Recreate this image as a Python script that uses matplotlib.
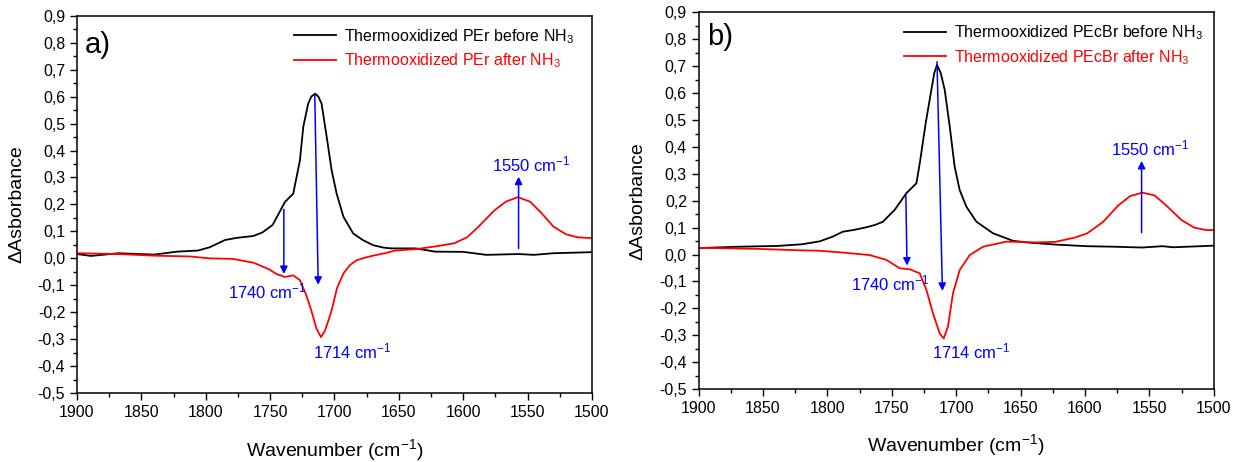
import matplotlib
matplotlib.use("Agg")
import matplotlib.pyplot as plt
from matplotlib.ticker import MultipleLocator, FuncFormatter

plt.rcParams["font.family"] = ["Liberation Sans", "DejaVu Sans"]
plt.rcParams["mathtext.fontset"] = "custom"
plt.rcParams["mathtext.rm"] = "Liberation Sans"
plt.rcParams["mathtext.it"] = "Liberation Sans:italic"

"""数据: 从图中读取的光谱 (波数 cm-1, ΔAbsorbance)"""
# a) PEr, before NH3
wn_a_before = [1900, 1889, 1868, 1840, 1822, 1806, 1797, 1785, 1776, 1763, 1756, 1748,
               1738.5, 1732, 1726.8, 1724.2, 1720.4, 1718, 1715, 1712.5, 1710, 1706,
               1702.2, 1698.3, 1693, 1685.4, 1678, 1670, 1662, 1656, 1637, 1622,
               1600, 1582, 1557, 1545, 1530, 1500]
abs_a_before = [0.016, 0.009, 0.019, 0.014, 0.025, 0.029, 0.041, 0.068, 0.076, 0.083, 0.096, 0.124,
                0.209, 0.240, 0.364, 0.488, 0.574, 0.600, 0.611, 0.600, 0.574, 0.450,
                0.327, 0.240, 0.154, 0.092, 0.068, 0.049, 0.040, 0.037, 0.037, 0.025,
                0.024, 0.013, 0.016, 0.013, 0.019, 0.023]
# a) PEr, after NH3
wn_a_after = [1900, 1868, 1840, 1812, 1797, 1779, 1763, 1751, 1745, 1738.5, 1732, 1726.8,
              1722, 1718, 1714, 1710.5, 1707.5, 1705, 1702.2, 1698, 1693, 1688, 1682.8,
              1676, 1670, 1659, 1653, 1637, 1622, 1607, 1597, 1588, 1576, 1567, 1557.5,
              1548, 1539, 1530, 1520, 1511, 1500]
abs_a_after = [0.019, 0.016, 0.010, 0.007, 0.000, -0.002, -0.016, -0.040, -0.058, -0.069, -0.063, -0.081,
               -0.135, -0.193, -0.260, -0.292, -0.270, -0.235, -0.193, -0.110, -0.056, -0.025, -0.007,
               0.003, 0.010, 0.021, 0.029, 0.034, 0.044, 0.056, 0.078, 0.118, 0.177, 0.210, 0.227,
               0.210, 0.167, 0.118, 0.089, 0.078, 0.075]
# b) PEcBr, before NH3
wn_b_before = [1900, 1869, 1838.5, 1820, 1806, 1795.7, 1788, 1780, 1771, 1763, 1756.9, 1747.8,
               1738.7, 1730.9, 1728.3, 1723.7, 1719.3, 1717, 1714.9, 1712, 1708.9, 1705,
               1701.2, 1697.3, 1692.1, 1684.3, 1671.4, 1655.9, 1645, 1623, 1598.5, 1577,
               1555.5, 1540, 1531, 1500]
abs_b_before = [0.024, 0.029, 0.032, 0.038, 0.049, 0.067, 0.085, 0.091, 0.100, 0.110, 0.122, 0.166,
                0.228, 0.265, 0.339, 0.488, 0.612, 0.675, 0.705, 0.675, 0.612, 0.475,
                0.327, 0.240, 0.178, 0.122, 0.079, 0.051, 0.045, 0.037, 0.031, 0.029,
                0.026, 0.031, 0.027, 0.033]
# b) PEcBr, after NH3
wn_b_after = [1900, 1854, 1823, 1806, 1785, 1767.2, 1754.2, 1743.9, 1736, 1728.3, 1723.1, 1718,
              1712.8, 1709.7, 1706.4, 1702.5, 1697.3, 1689.5, 1679.2, 1661, 1638.5, 1623,
              1608, 1598.5, 1586, 1574, 1565, 1555.5, 1546, 1537, 1525, 1515, 1506, 1500]
abs_b_after = [0.025, 0.021, 0.016, 0.014, 0.006, -0.002, -0.020, -0.051, -0.055, -0.070, -0.132, -0.219,
               -0.293, -0.312, -0.268, -0.144, -0.058, -0.002, 0.029, 0.048, 0.045, 0.047,
               0.063, 0.078, 0.121, 0.183, 0.217, 0.230, 0.220, 0.183, 0.128, 0.100, 0.091, 0.091]

labels_a = ["Thermooxidized PEr before NH$_3$", "Thermooxidized PEr after NH$_3$"]
labels_b = ["Thermooxidized PEcBr before NH$_3$", "Thermooxidized PEcBr after NH$_3$"]
band_texts = ["1740 cm$^{-1}$", "1714 cm$^{-1}$", "1550 cm$^{-1}$"]

# 箭头: (尾, 头) ; 标注文字位置
arrows_a = [((1739.3, 0.182), (1739.3, -0.058)),
            ((1715.3, 0.610), (1712.6, -0.098)),
            ((1557.0, 0.037), (1557.0, 0.303))]
text_pos_a = [(1783, -0.123), (1717, -0.346), (1577.5, 0.349)]
arrows_b = [((1739.1, 0.221), (1738.2, -0.041)),
            ((1714.9, 0.717), (1710.7, -0.135)),
            ((1556.0, 0.081), (1556.0, 0.348))]
text_pos_b = [(1782, -0.108), (1718.5, -0.361), (1580, 0.396)]

fig = plt.figure(figsize=(12.41, 4.62), dpi=100)
ax_a = fig.add_axes([0.062, 0.149, 0.415, 0.817])
ax_b = fig.add_axes([0.563, 0.158, 0.415, 0.815])

comma = FuncFormatter(lambda v, p: ("%.1f" % v).replace(".", ",").replace("-0,0", "0,0"))


def draw(ax, wn1, y1, wn2, y2, labels, arrows, text_pos, tag, tag_y, leg_x):
    ax.plot(wn1, y1, color="black", lw=1.3, label=labels[0])
    ax.plot(wn2, y2, color="red", lw=1.3, label=labels[1])
    ax.set_xlim(1900, 1500)
    ax.set_ylim(-0.5, 0.9)
    ax.xaxis.set_major_locator(MultipleLocator(50))
    ax.xaxis.set_minor_locator(MultipleLocator(25))
    ax.yaxis.set_major_locator(MultipleLocator(0.1))
    ax.yaxis.set_minor_locator(MultipleLocator(0.05))
    ax.yaxis.set_major_formatter(comma)
    ax.tick_params(which="major", length=5, width=1, labelsize=11.5, direction="out")
    ax.tick_params(which="minor", length=3, width=1, direction="out")
    for s in ax.spines.values():
        s.set_linewidth(1.1)
    ax.set_xlabel("Wavenumber (cm$^{-1}$)", fontsize=14, labelpad=12)
    ax.set_ylabel("\u0394Asborbance", fontsize=14, labelpad=9)
    for (tail, head) in arrows:
        ax.annotate("", xy=head, xytext=tail,
                    arrowprops=dict(arrowstyle="-|>", color="blue", lw=1.1,
                                    mutation_scale=11, shrinkA=0, shrinkB=0))
    for t, (x, y) in zip(band_texts, text_pos):
        ax.text(x, y, t, color="blue", fontsize=12, ha="left", va="center")
    ax.text(0.016, tag_y, tag, transform=ax.transAxes, fontsize=21, va="center", ha="left")
    leg = ax.legend(loc="upper right", bbox_to_anchor=(leg_x, 1.0), frameon=False,
                    fontsize=11.5, handlelength=2.6, handletextpad=0.5,
                    labelspacing=0.35, borderaxespad=0.3)
    for txt, line in zip(leg.get_texts(), leg.get_lines()):
        txt.set_color(line.get_color())


draw(ax_a, wn_a_before, abs_a_before, wn_a_after, abs_a_after, labels_a, arrows_a, text_pos_a,
     "a)", 0.922, 0.987)
draw(ax_b, wn_b_before, abs_b_before, wn_b_after, abs_b_after, labels_b, arrows_b, text_pos_b,
     "b)", 0.934, 1.0)

fig.savefig("out.png", dpi=100)
